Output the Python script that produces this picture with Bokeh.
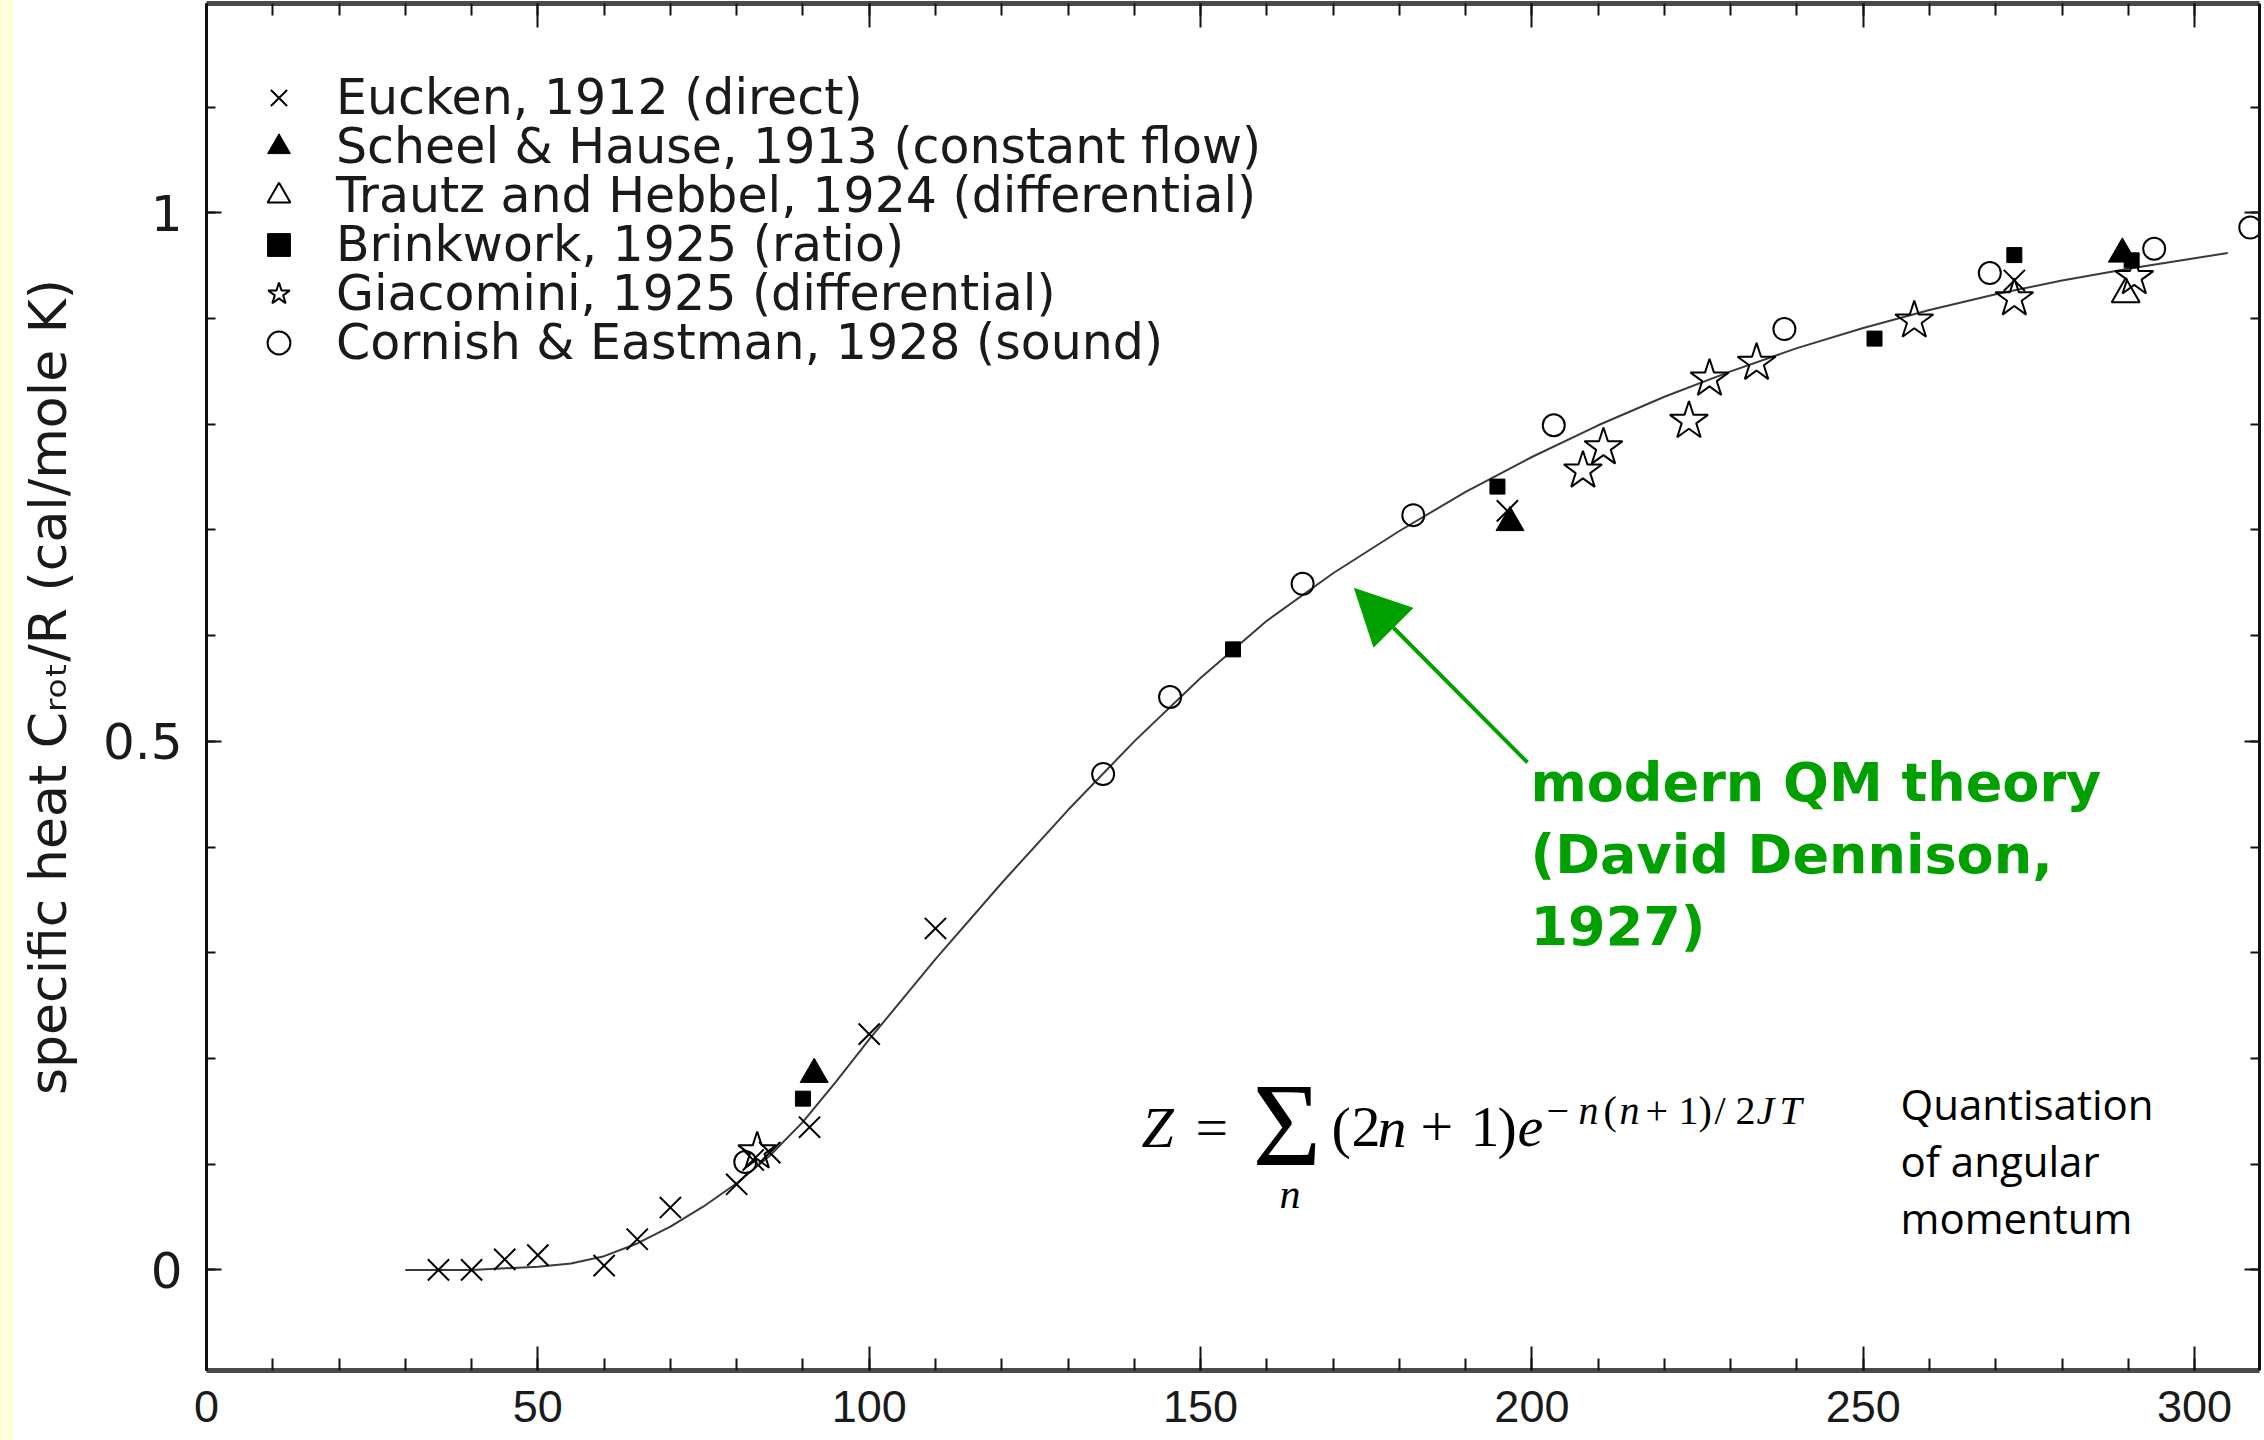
from bokeh.plotting import figure
from bokeh.models import (Label, Arrow, NormalHead, LinearAxis, FixedTicker, Range1d,
                          Legend, LegendItem, Spacer, Row)
from bokeh.embed import file_html
from bokeh.resources import INLINE

# ---------------- data ----------------
eucken_T = [35, 40, 45, 50, 60, 65, 70, 80, 82.5, 85, 91, 100, 110, 196.3, 272.8]
eucken_C = [0.000, 0.000, 0.010, 0.014, 0.004, 0.029, 0.059, 0.081, 0.104, 0.111,
            0.135, 0.223, 0.323, 0.718, 0.936]
scheel_T = [91.7, 196.7, 289.1]
scheel_C = [0.185, 0.707, 0.961]
trautz_T = [289.6]
trautz_C = [0.923]
brink_T = [90.0, 154.9, 194.8, 251.7, 272.8, 290.5]
brink_C = [0.162, 0.587, 0.741, 0.881, 0.960, 0.955]
giac_T = [83.1, 207.7, 210.8, 223.7, 226.8, 233.9, 257.7, 272.8, 290.9]
giac_C = [0.112, 0.756, 0.778, 0.803, 0.843, 0.858, 0.898, 0.919, 0.939]
cornish_T = [81.3, 135.3, 145.4, 165.4, 182.1, 203.3, 238.1, 269.1, 293.9, 308.4]
cornish_C = [0.102, 0.469, 0.542, 0.649, 0.714, 0.799, 0.890, 0.943, 0.966, 0.986]
theory_T = [30, 40, 50, 55, 60, 65, 70, 75, 80, 85, 90, 95, 100, 110, 120, 130, 140,
            150, 160, 170, 180, 190, 200, 210, 220, 230, 240, 250, 260, 270, 280, 290,
            300, 305]
theory_C = [0.000, 0.000, 0.003, 0.006, 0.013, 0.025, 0.041, 0.060, 0.082, 0.108,
            0.140, 0.178, 0.218, 0.294, 0.366, 0.435, 0.500, 0.560, 0.614, 0.659,
            0.699, 0.736, 0.769, 0.799, 0.826, 0.850, 0.872, 0.891, 0.908, 0.923,
            0.936, 0.947, 0.957, 0.962]
legend_labels = ["Eucken, 1912 (direct)", "Scheel & Hause, 1913 (constant flow)",
                 "Trautz and Hebbel, 1924 (differential)", "Brinkwork, 1925 (ratio)",
                 "Giacomini, 1925 (differential)", "Cornish & Eastman, 1928 (sound)"]
y_title = "specific heat C\u1d63\u2092\u209c/R (cal/mole K)"
x_major = [0, 50, 100, 150, 200, 250, 300]
x_minor = list(range(0, 311, 10))
y_major = [0, 0.5, 1]
y_minor = [-0.1, 0.0, 0.1, 0.2, 0.3, 0.4, 0.5, 0.6, 0.7, 0.8, 0.9, 1.0, 1.1]
y_labels = {0: "0", 0.5: "0.5", 1: "1"}

# ---------------- geometry ----------------
W, H = 2264, 1440
STRIP = 14
FRAME_L, FRAME_R, FRAME_T, FRAME_B = 206, 2259, 3, 1370
PX_PER_X = 6.627           # pixels per kelvin
PX_PER_Y = 1057.1          # pixels per unit of C/R
Y0_PX = 1269.4             # pixel row of C/R = 0
X_MIN = 0.0
X_MAX = (FRAME_R - FRAME_L) / PX_PER_X
Y_MAX = (Y0_PX - FRAME_T) / PX_PER_Y
Y_MIN = -(FRAME_B - Y0_PX) / PX_PER_Y


def dx(px):
    return X_MIN + (px - FRAME_L) / PX_PER_X


def dy(py):
    return (Y0_PX - py) / PX_PER_Y


p = figure(width=W - STRIP, height=H, output_backend="svg", toolbar_location=None,
           x_range=Range1d(X_MIN, X_MAX), y_range=Range1d(Y_MIN, Y_MAX),
           x_axis_location=None, y_axis_location=None,
           min_border_left=FRAME_L - STRIP, min_border_right=W - FRAME_R,
           min_border_top=FRAME_T, min_border_bottom=H - FRAME_B,
           background_fill_color="white", border_fill_color="white")
p.outline_line_color = None
p.grid.grid_line_color = None


def make_axis(ticks, minor, tick_in, minor_in, line_w, line_c, labels,
              font="DejaVu Sans", size="50px", standoff=10, overrides=None):
    ax = LinearAxis(ticker=FixedTicker(ticks=ticks, minor_ticks=minor))
    ax.major_tick_in = tick_in
    ax.major_tick_out = 0
    ax.minor_tick_in = minor_in
    ax.minor_tick_out = 0
    ax.major_tick_line_width = 2
    ax.minor_tick_line_width = 2
    ax.major_tick_line_color = "#111111"
    ax.minor_tick_line_color = "#111111"
    ax.axis_line_width = line_w
    ax.axis_line_color = line_c
    if labels:
        ax.major_label_text_font = font
        ax.major_label_text_font_size = size
        ax.major_label_text_color = "#1a1a1a"
        ax.major_label_standoff = standoff
        if overrides:
            ax.major_label_overrides = overrides
    else:
        ax.major_label_overrides = {t: "" for t in ticks}
        ax.major_label_text_font_size = "0px"
        ax.major_label_standoff = 0
    return ax


p.add_layout(make_axis(x_major, x_minor, 24, 12, 5, "#4a4a4a", True,
                       font="Liberation Sans", size="45px", standoff=20), "below")
p.add_layout(make_axis(x_major, x_minor, 24, 12, 5, "#4a4a4a", False), "above")
left = make_axis(y_major, y_minor, 15, 9, 3, "#111111", True,
                 font="DejaVu Sans", size="50px", standoff=24, overrides=y_labels)
left.axis_label = y_title
left.axis_label_text_font = "DejaVu Sans"
left.axis_label_text_font_size = "52px"
left.axis_label_text_font_style = "normal"
left.axis_label_text_color = "#1a1a1a"
left.axis_label_standoff = 22
p.add_layout(left, "left")
p.add_layout(make_axis(y_major, y_minor, 15, 9, 3, "#111111", False), "right")

# ---------------- glyphs ----------------
p.line(theory_T, theory_C, line_color="#3a3a3a", line_width=2)
r_e = p.scatter(eucken_T, eucken_C, marker="x", size=30, line_color="black", line_width=2)
r_s = p.scatter(scheel_T, scheel_C, marker="triangle", size=28, fill_color="black",
                line_color="black")
r_t = p.scatter(trautz_T, trautz_C, marker="triangle", size=28, fill_color=None,
                line_color="black", line_width=2)
r_b = p.scatter(brink_T, brink_C, marker="square", size=15, fill_color="black",
                line_color="black")
r_g = p.scatter(giac_T, giac_C, marker="star", size=40, fill_color=None,
                line_color="black", line_width=2)
r_c = p.scatter(cornish_T, cornish_C, marker="circle", size=22, fill_color=None,
                line_color="black", line_width=2)

# one small legend per row, so that the row pitch can match the picture
ROW_H = 57
row_centres = [97, 146, 195, 244, 293, 342]
for lab, rend, yc in zip(legend_labels, [r_e, r_s, r_t, r_b, r_g, r_c], row_centres):
    lg = Legend(items=[LegendItem(label=lab, renderers=[rend])],
                location=(44, FRAME_B - (yc + ROW_H / 2)), margin=0, padding=0,
                spacing=0, glyph_width=ROW_H, glyph_height=ROW_H, label_height=ROW_H,
                label_standoff=29, label_text_font="DejaVu Sans",
                label_text_font_size="49px", label_text_color="#1a1a1a",
                label_text_baseline="middle", border_line_color=None,
                background_fill_alpha=0)
    p.add_layout(lg)


def add_text(px, py, text, size, font="DejaVu Sans", style="normal", color="#111111"):
    # py is the wanted baseline row; Bokeh draws the text about 0.4 em lower
    p.add_layout(Label(x=dx(px), y=dy(py - 0.4 * size), text=text, text_font=font,
                       text_font_size=f"{size}px", text_font_style=style,
                       text_color=color, text_baseline="alphabetic",
                       text_align="left"))


# green annotation
GREEN = "#00A000"
for i, line in enumerate(["modern QM theory", "(David Dennison,", "1927)"]):
    add_text(1530, 804 + 72 * i, line, 54, style="bold", color=GREEN)
p.add_layout(Arrow(end=NormalHead(size=55, fill_color=GREEN, line_color=GREEN),
                   x_start=dx(1527), y_start=dy(762), x_end=dx(1354), y_end=dy(588),
                   line_color=GREEN, line_width=4))

# Quantisation note
for i, line in enumerate(["Quantisation", "of angular", "momentum"]):
    add_text(1900, 1120 + 57 * i, line, 42, font="Open Sans", color="black")

# partition function formula
SERIF = "Liberation Serif"
MAIN = 1150
SUP = 1126
for px, py, t, s, st in [
        (1141, MAIN, "Z", 58, "italic"),
        (1195, MAIN, "=", 58, "normal"),
        (1252, 1172, "\u03a3", 118, "normal"),
        (1279, 1210, "n", 42, "italic"),
        (1331, MAIN, "(", 58, "normal"),
        (1351, MAIN, "2", 58, "normal"),
        (1377, MAIN, "n", 58, "italic"),
        (1420, MAIN, "+", 58, "normal"),
        (1470, MAIN, "1", 58, "normal"),
        (1497, MAIN, ")", 58, "normal"),
        (1517, MAIN, "e", 58, "italic"),
        (1546, SUP, "\u2212", 40, "normal"),
        (1578, SUP, "n", 40, "italic"),
        (1603, SUP, "(", 40, "normal"),
        (1619, SUP, "n", 40, "italic"),
        (1645, SUP, "+", 40, "normal"),
        (1678, SUP, "1", 40, "normal"),
        (1698, SUP, ")", 40, "normal"),
        (1714, SUP, "/", 40, "normal"),
        (1735, SUP, "2", 40, "normal"),
        (1756, SUP, "J", 40, "italic"),
        (1779, SUP, "T", 40, "italic")]:
    add_text(px, py, t, s, font=SERIF, style=st, color="black")

strip = Spacer(width=STRIP, height=H, styles={"background-color": "#FFFFD9"})
layout = Row(children=[strip, p], spacing=0)

open("out.html", "w").write(file_html(layout, INLINE))
